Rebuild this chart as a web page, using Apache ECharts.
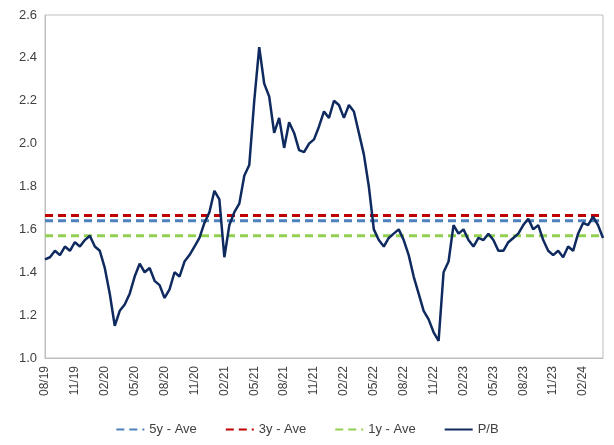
<!DOCTYPE html>
<html>
<head>
<meta charset="utf-8">
<script src="https://cdn.jsdelivr.net/npm/echarts@6/dist/echarts.min.js"></script>
<style>html,body{margin:0;padding:0;background:#fff}#c{width:614px;height:445px}</style>
</head>
<body>
<div id="c"></div>
<script>
// semi-monthly points, Aug 2019 .. mid Apr 2024
var pb = [
  1.46,1.47, 1.50,1.48, 1.52,1.50, 1.54,1.52, 1.55,1.57,
  1.52,1.50, 1.42,1.30, 1.15,1.22, 1.25,1.30, 1.38,1.44, 1.40,1.42, 1.36,1.34,
  1.28,1.32, 1.40,1.38, 1.45,1.48, 1.52,1.56, 1.63,1.68,
  1.78,1.74, 1.47,1.62, 1.68,1.72, 1.85,1.90, 2.20,2.45, 2.28,2.22, 2.05,2.12,
  1.98,2.10, 2.05,1.97, 1.96,2.00, 2.02,2.08, 2.15,2.12,
  2.20,2.18, 2.12,2.18, 2.15,2.05, 1.95,1.80, 1.60,1.55, 1.52,1.56, 1.58,1.60,
  1.55,1.48, 1.38,1.30, 1.22,1.18, 1.12,1.08, 1.40,1.45,
  1.62,1.58, 1.60,1.55, 1.52,1.56, 1.55,1.58, 1.55,1.50, 1.50,1.54, 1.56,1.58,
  1.62,1.65, 1.60,1.62, 1.55,1.50, 1.48,1.50, 1.47,1.52,
  1.50,1.58, 1.63,1.62, 1.66,1.62, 1.56
];
var ave5y = 1.64, ave3y = 1.665, ave1y = 1.57;

var dates = [];
for (var i = 0; i < pb.length; i++) {
    var m = 7 + Math.floor(i / 2), y = 19 + Math.floor(m / 12);
    m = m % 12 + 1;
    dates.push((m < 10 ? '0' : '') + m + '/' + y);
}
function flat(v) { return pb.map(function () { return v; }); }

var chart = echarts.init(document.getElementById('c'));
chart.setOption({
    animation: false,
    grid: {left: 45, right: 11, top: 15, bottom: 87, show: true, borderColor: '#bfbfbf', borderWidth: 1},
    legend: {
        bottom: 4, itemWidth: 28, itemHeight: 3, itemGap: 28,
        itemStyle: {opacity: 0},
        textStyle: {color: '#404040', fontSize: 13, fontFamily: 'Liberation Sans'},
        data: ['5y - Ave', '3y - Ave', '1y - Ave', 'P/B']
    },
    xAxis: {
        type: 'category', data: dates, boundaryGap: false,
        axisLine: {lineStyle: {color: '#bfbfbf'}},
        axisTick: {show: false},
        axisLabel: {
            rotate: 90, color: '#404040', fontSize: 12, fontFamily: 'Liberation Sans',
            interval: function (i) { return i % 6 === 0; }
        }
    },
    yAxis: {
        type: 'value', min: 1.0, max: 2.6, interval: 0.2,
        splitLine: {show: false},
        axisLine: {show: true, lineStyle: {color: '#bfbfbf'}},
        axisLabel: {color: '#404040', fontSize: 13, fontFamily: 'Liberation Sans',
            formatter: function (v) { return v.toFixed(1); }}
    },
    series: [
        {name: '5y - Ave', type: 'line', data: flat(ave5y), symbol: 'none',
         lineStyle: {color: '#4f81bd', width: 3, type: [8, 5]}, itemStyle: {color: '#4f81bd'}},
        {name: '3y - Ave', type: 'line', data: flat(ave3y), symbol: 'none',
         lineStyle: {color: '#c00000', width: 3, type: [8, 5]}, itemStyle: {color: '#c00000'}},
        {name: '1y - Ave', type: 'line', data: flat(ave1y), symbol: 'none',
         lineStyle: {color: '#92d050', width: 3, type: [8, 5]}, itemStyle: {color: '#92d050'}},
        {name: 'P/B', type: 'line', data: pb, symbol: 'none',
         lineStyle: {color: '#0f2a5f', width: 2.5}, itemStyle: {color: '#0f2a5f'}}
    ]
});
</script>
</body>
</html>
